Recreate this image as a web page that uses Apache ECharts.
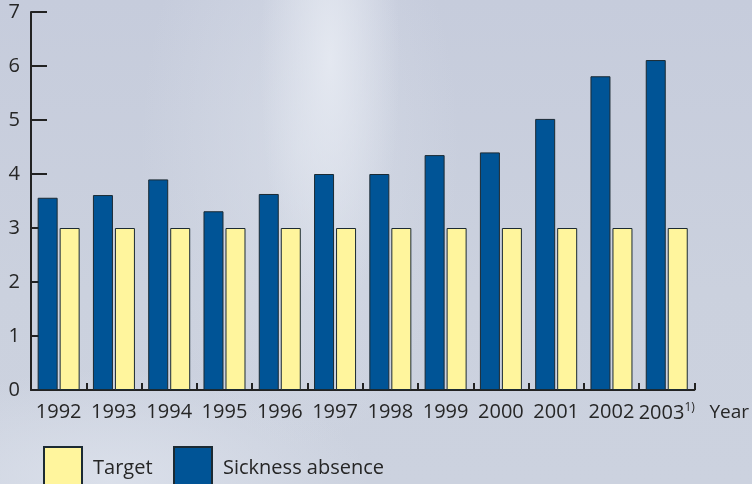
<!DOCTYPE html>
<html>
<head>
<meta charset="utf-8">
<script src="https://cdn.jsdelivr.net/npm/echarts@6/dist/echarts.min.js"></script>
<style>
  html, body { margin: 0; padding: 0; }
  body {
    width: 752px; height: 484px; overflow: hidden;
    background:
      radial-gradient(ellipse 70px 260px at 330px 60px, rgba(230,234,242,0.9), rgba(230,234,242,0)),
      radial-gradient(ellipse 160px 300px at 300px 150px, rgba(220,225,235,0.6), rgba(220,225,235,0)),
      radial-gradient(ellipse 260px 110px at 110px 480px, rgba(222,227,237,0.8), rgba(222,227,237,0)),
      linear-gradient(180deg, #c6ccdc 0%, #cbd1de 60%, #ccd2df 100%);
  }
  #chart { width: 752px; height: 484px; }
</style>
</head>
<body>
<div id="chart"></div>
<script>
var years = ["1992", "1993", "1994", "1995", "1996", "1997", "1998", "1999", "2000", "2001", "2002", "2003"];
var sickness = [3.56, 3.61, 3.9, 3.31, 3.63, 4.0, 4.0, 4.35, 4.4, 5.02, 5.81, 6.11];
var target = [3, 3, 3, 3, 3, 3, 3, 3, 3, 3, 3, 3];

var font = "'Open Sans', 'Noto Sans', sans-serif";
var axisColor = "#222222";
var textColor = "#262626";

var myChart = echarts.init(document.getElementById("chart"));
var option = {
  backgroundColor: "transparent",
  animation: false,
  textStyle: { fontFamily: font },
  grid: { left: 31, right: 55, top: 12, bottom: 94 },
  legend: [
    {
      data: ["Target"],
      left: 43, top: 446, padding: 0,
      itemWidth: 38, itemHeight: 42,
      icon: "rect",
      textStyle: { color: textColor, fontSize: 20, fontFamily: font, padding: [0, 0, 0, 6] },
    },
    {
      data: ["Sickness absence"],
      left: 173, top: 446, padding: 0,
      itemWidth: 38, itemHeight: 42,
      icon: "rect",
      textStyle: { color: textColor, fontSize: 20, fontFamily: font, padding: [0, 0, 0, 6] },
    },
  ],
  xAxis: {
    type: "category",
    data: years,
    name: "Year",
    nameLocation: "end",
    nameGap: 15,
    nameTextStyle: { color: textColor, fontSize: 19, fontFamily: font, verticalAlign: "top", padding: [13, 0, 0, 0] },
    axisLine: { lineStyle: { color: axisColor, width: 2 } },
    axisTick: { show: true, inside: true, interval: 0, length: 7, lineStyle: { color: axisColor, width: 2 } },
    axisLabel: {
      interval: 0,
      color: textColor, fontSize: 20, fontFamily: font, margin: 12,
      formatter: function (v) {
        return v === "2003" ? "{a|2003}{s|1)}" : "{a|" + v + "}";
      },
      rich: {
        a: { color: textColor, fontSize: 20, fontFamily: font },
        s: { color: textColor, fontSize: 12, fontFamily: font, verticalAlign: "top", padding: [0, 0, 10, 0] },
      },
    },
  },
  yAxis: {
    type: "value",
    min: 0, max: 7, interval: 1,
    axisLine: { show: true, lineStyle: { color: axisColor, width: 2 } },
    axisTick: { show: true, inside: true, length: 16, lineStyle: { color: axisColor, width: 2 } },
    splitLine: { show: false },
    axisLabel: { color: textColor, fontSize: 20, fontFamily: font, margin: 11 },
  },
  series: [
    {
      name: "Sickness absence",
      type: "bar",
      data: sickness,
      barWidth: 20,
      barGap: "10%",
      itemStyle: { color: "#005496", borderColor: "#1b2a33", borderWidth: 1 },
    },
    {
      name: "Target",
      type: "bar",
      data: target,
      barWidth: 20,
      itemStyle: { color: "#fff59d", borderColor: "#1b2a33", borderWidth: 1 },
    },
  ],
};
myChart.setOption(option);
</script>
</body>
</html>
